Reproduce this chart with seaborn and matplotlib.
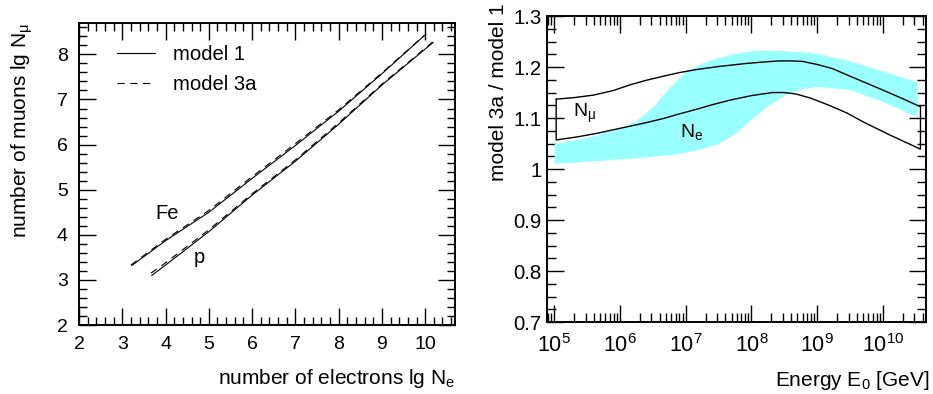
import numpy as np
import pandas as pd
import matplotlib
matplotlib.use("Agg")
import matplotlib.pyplot as plt
from matplotlib.ticker import MultipleLocator, FixedLocator, LogLocator, FuncFormatter
from matplotlib.lines import Line2D
import seaborn as sns

# ---- left panel: lg N_mu versus lg N_e for proton and iron showers ----
fe_m1_x = [3.22, 4.0, 5.0, 6.0, 7.0, 8.0, 9.0, 10.02]
fe_m1_y = [3.32, 3.87, 4.50, 5.25, 5.98, 6.74, 7.57, 8.45]
fe_m3_x = [3.20, 4.0, 5.0, 6.0, 7.0, 8.0, 9.0, 9.98]
fe_m3_y = [3.33, 3.90, 4.54, 5.29, 6.02, 6.77, 7.59, 8.42]
p_m1_x = [3.68, 4.0, 5.0, 6.0, 7.0, 8.0, 9.0, 10.19]
p_m1_y = [3.10, 3.33, 4.07, 4.88, 5.63, 6.45, 7.32, 8.27]
p_m3_x = [3.66, 4.0, 5.0, 6.0, 7.0, 8.0, 9.0, 10.17]
p_m3_y = [3.15, 3.38, 4.11, 4.91, 5.66, 6.48, 7.34, 8.27]

# ---- right panel: ratio model 3a / model 1 versus primary energy ----
nmu_up_lgE = [5.03, 5.3, 5.6, 5.9, 6.15, 6.4, 6.66, 6.9, 7.16, 7.5, 7.92, 8.2,
              8.42, 8.6, 8.78, 9.0, 9.23, 9.5, 9.94, 10.3, 10.57]
nmu_up_val = [1.137, 1.140, 1.145, 1.154, 1.165, 1.174, 1.182, 1.189, 1.195,
              1.201, 1.207, 1.210, 1.212, 1.212, 1.211, 1.205, 1.197, 1.182,
              1.158, 1.138, 1.122]
nmu_lo_lgE = [5.03, 5.35, 5.65, 5.9, 6.15, 6.4, 6.66, 6.9, 7.16, 7.4, 7.67, 8.0,
              8.32, 8.5, 8.68, 8.9, 9.18, 9.45, 9.69, 10.1, 10.57]
nmu_lo_val = [1.057, 1.063, 1.070, 1.077, 1.084, 1.091, 1.099, 1.108, 1.117,
              1.126, 1.135, 1.144, 1.150, 1.150, 1.147, 1.139, 1.125, 1.110,
              1.093, 1.067, 1.039]

ne_lgE = [5.0, 5.5, 6.0, 6.25, 6.5, 6.75, 7.0, 7.25, 7.5, 7.75, 8.0, 8.25,
          8.5, 8.75, 9.0, 9.5, 10.0, 10.52]
ne_up = [1.050, 1.062, 1.080, 1.095, 1.122, 1.160, 1.192, 1.208, 1.219, 1.227,
         1.232, 1.233, 1.232, 1.230, 1.227, 1.212, 1.192, 1.171]
ne_lo = [1.011, 1.015, 1.020, 1.022, 1.025, 1.028, 1.033, 1.040, 1.050, 1.070,
         1.098, 1.125, 1.145, 1.157, 1.162, 1.156, 1.132, 1.103]

sns.set_style("ticks")
plt.rcParams["font.family"] = ["Liberation Sans", "DejaVu Sans"]
plt.rcParams["mathtext.fontset"] = "custom"
plt.rcParams["mathtext.rm"] = "Liberation Sans"
plt.rcParams["mathtext.it"] = "Liberation Sans"
plt.rcParams["mathtext.sf"] = "Liberation Sans"
plt.rcParams["mathtext.default"] = "regular"
for key in ("text.color", "axes.labelcolor", "xtick.color", "ytick.color",
            "xtick.labelcolor", "ytick.labelcolor", "axes.edgecolor"):
    plt.rcParams[key] = "black"

fig = plt.figure(figsize=(9.33, 3.94), dpi=100)
ax1 = fig.add_axes([0.0847, 0.175, 0.403, 0.766])
ax2 = fig.add_axes([0.5866, 0.1827, 0.4056, 0.7766])

dash = (6.5, 5)

left = pd.DataFrame({
    "lgNe": fe_m1_x + fe_m3_x + p_m1_x + p_m3_x,
    "lgNmu": fe_m1_y + fe_m3_y + p_m1_y + p_m3_y,
    "curve": (["Fe 1"] * len(fe_m1_x) + ["Fe 3a"] * len(fe_m3_x)
              + ["p 1"] * len(p_m1_x) + ["p 3a"] * len(p_m3_x)),
})
for name, sub in left.groupby("curve"):
    dashed = name.endswith("3a")
    sns.lineplot(data=sub, x="lgNe", y="lgNmu", ax=ax1, color="black",
                 lw=0.8, sort=False, estimator=None,
                 linestyle=(0, dash) if dashed else "-", legend=False)

handles = [Line2D([], [], color="black", lw=0.8),
           Line2D([], [], color="black", lw=0.8, linestyle=(0, dash))]
ax1.legend(handles, ["model 1", "model 3a"], loc="upper left",
           bbox_to_anchor=(0.101, 0.928), frameon=False, fontsize=14.6,
           borderpad=0, borderaxespad=0, labelcolor="black",
           handlelength=1.87, handletextpad=0.89, labelspacing=0.55)

ax1.text(3.76, 4.34, "Fe", fontsize=14.5, ha="left", va="baseline")
ax1.text(4.64, 3.38, "p", fontsize=14.5, ha="left", va="baseline")

ax1.set_xlim(2, 10.69)
ax1.set_ylim(2, 8.69)
ax1.xaxis.set_major_locator(MultipleLocator(1))
ax1.xaxis.set_minor_locator(MultipleLocator(0.2))
ax1.yaxis.set_major_locator(MultipleLocator(1))
ax1.yaxis.set_minor_locator(MultipleLocator(0.2))
ax1.set_xlabel("number of electrons lg $N_e$", fontsize=15, loc="right")
ax1.set_ylabel("number of muons lg $N_\\mu$", fontsize=15, loc="top")
ax1.xaxis.set_label_coords(1.0, -0.138)
ax1.yaxis.set_label_coords(-0.117, 1.0)
ax1.tick_params(which="both", direction="in", top=True, right=True,
                width=1.0, labelsize=14)
ax1.tick_params(which="major", length=12)
ax1.tick_params(which="minor", length=5.5)
ax1.tick_params(axis="x", which="major", pad=8)
ax1.tick_params(axis="y", which="major", pad=8)

# right panel
ax2.set_xscale("log")
band = pd.DataFrame({"E": 10.0 ** np.array(ne_lgE), "up": ne_up, "lo": ne_lo})
ax2.fill_between(band["E"], band["lo"], band["up"], color="#99ffff", lw=0)

nmu_E = np.concatenate([10.0 ** np.array(nmu_up_lgE), 10.0 ** np.array(nmu_lo_lgE)[::-1],
                        10.0 ** np.array(nmu_up_lgE[:1])])
nmu_R = np.concatenate([nmu_up_val, nmu_lo_val[::-1], nmu_up_val[:1]])
outline = pd.DataFrame({"E": nmu_E, "R": nmu_R})
sns.lineplot(data=outline, x="E", y="R", ax=ax2, color="black", lw=1.0,
             sort=False, estimator=None, legend=False)

ax2.text(10 ** 5.28, 1.1025, "$N_{\\mu}$", fontsize=14, ha="left", va="baseline")
ax2.text(10 ** 6.92, 1.0633, "$N_e$", fontsize=14, ha="left", va="baseline")

ax2.set_xlim(10 ** 4.895, 10 ** 10.65)
ax2.set_ylim(0.7, 1.3)
ax2.xaxis.set_major_locator(FixedLocator([1e5, 1e6, 1e7, 1e8, 1e9, 1e10]))
ax2.xaxis.set_minor_locator(LogLocator(base=10, subs=np.arange(2, 10), numticks=20))
ax2.xaxis.set_major_formatter(FuncFormatter(lambda v, p: "$10^{%d}$" % round(np.log10(v))))
ax2.yaxis.set_major_locator(MultipleLocator(0.1))
ax2.yaxis.set_minor_locator(MultipleLocator(0.025))
ax2.yaxis.set_major_formatter(FuncFormatter(lambda v, p: "%g" % round(v, 2)))
ax2.set_xlabel("Energy $E_0$ [GeV]", fontsize=15, loc="right")
ax2.set_ylabel("model 3a / model 1", fontsize=15, loc="top")
ax2.xaxis.set_label_coords(1.009, -0.152)
ax2.yaxis.set_label_coords(-0.104, 1.0425)
ax2.tick_params(which="both", direction="in", top=True, right=True,
                width=1.0, labelsize=14.7)
ax2.tick_params(axis="x", which="major", labelsize=15.5)
ax2.tick_params(which="major", length=12.5)
ax2.tick_params(which="minor", length=6.5)
ax2.tick_params(axis="x", which="major", pad=9)
ax2.tick_params(axis="y", which="major", pad=4)

for ax in (ax1, ax2):
    for s in ax.spines.values():
        s.set_linewidth(1.4)
        s.set_color("black")

fig.savefig("out.png", dpi=100)
